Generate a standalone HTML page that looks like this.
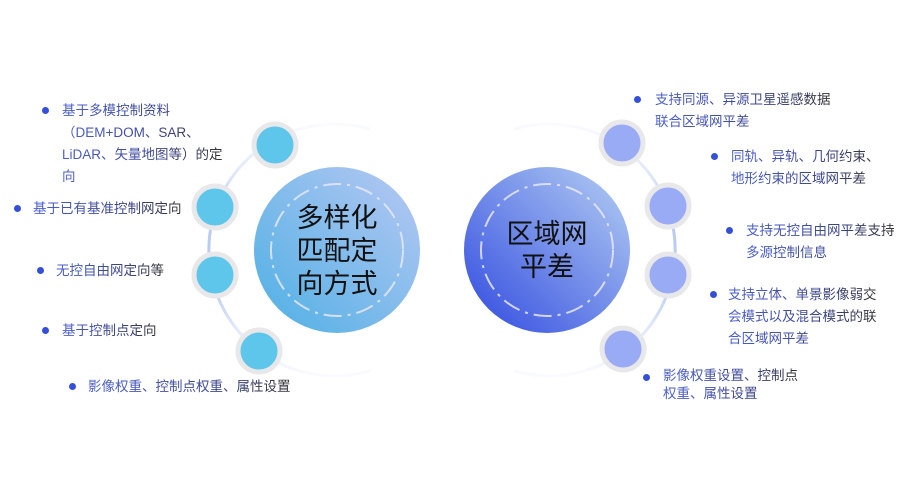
<!DOCTYPE html>
<html><head><meta charset="utf-8"><style>
body{margin:0;width:911px;height:494px;background:#fff;position:relative;overflow:hidden;font-family:"Liberation Sans","Noto Sans CJK SC",sans-serif;}
.t{position:absolute;font-size:13.5px;line-height:22px;white-space:nowrap;background:linear-gradient(90deg,#4a5fd0,#3a4590 60%,#333);-webkit-background-clip:text;background-clip:text;color:transparent;}
.b{position:absolute;width:7px;height:7px;border-radius:50%;background:#3550d8;}
.c{position:absolute;font-size:27px;line-height:33px;color:#111;text-align:center;}
</style></head><body>
<svg width="911" height="494" style="position:absolute;left:0;top:0">
<defs>
<linearGradient id="gl" x1="0" y1="1" x2="1" y2="0"><stop offset="0" stop-color="#4cb0e4"/><stop offset="1" stop-color="#b9c8f3"/></linearGradient>
<linearGradient id="gr" x1="0" y1="1" x2="1" y2="0"><stop offset="0" stop-color="#2f49e0"/><stop offset="1" stop-color="#b6d0f3"/></linearGradient>
<linearGradient id="al" x1="0" y1="0" x2="0" y2="1"><stop offset="0" stop-color="#fafbff"/><stop offset=".2" stop-color="#dfe7fa"/><stop offset=".35" stop-color="#b9cdf3"/><stop offset=".65" stop-color="#b9cdf3"/><stop offset=".8" stop-color="#dfe7fa"/><stop offset="1" stop-color="#fafbff"/></linearGradient>
</defs>
<path d="M370 129 A126 126 0 1 0 370 371" fill="none" stroke="url(#al)" stroke-width="3"/>
<path d="M514 129 A126 126 0 1 1 514 371" fill="none" stroke="url(#al)" stroke-width="3"/>
<circle cx="337" cy="250" r="83" fill="url(#gl)"/>
<circle cx="337" cy="250" r="66" fill="none" stroke="#e8e6f8" stroke-width="2" stroke-dasharray="18 6 3 6" opacity=".85"/>
<circle cx="547" cy="250" r="83" fill="url(#gr)"/>
<circle cx="547" cy="250" r="66" fill="none" stroke="#e8e6f8" stroke-width="2" stroke-dasharray="18 6 3 6" opacity=".85"/>
<g fill="#5ec5eb" stroke="#e8e8ea" stroke-width="5">
<circle cx="275" cy="145" r="21"/><circle cx="215" cy="207" r="21"/><circle cx="215" cy="275" r="21"/><circle cx="259" cy="351" r="21"/>
</g>
<g fill="#9aabf5" stroke="#e8e8ea" stroke-width="5">
<circle cx="622" cy="143" r="21"/><circle cx="668" cy="206" r="21"/><circle cx="668" cy="275" r="21"/><circle cx="623" cy="349" r="21"/>
</g>
</svg>
<div class="c" style="left:287px;top:202px;width:100px">多样化<br>匹配定<br>向方式</div>
<div class="c" style="left:497px;top:218px;width:100px">区域网<br>平差</div>

<div class="b" style="left:42px;top:107px"></div>
<div class="t" style="left:62px;top:100px">基于多模控制资料<br>（DEM+DOM、SAR、<br>LiDAR、矢量地图等）的定<br>向</div>
<div class="b" style="left:14px;top:205px"></div>
<div class="t" style="left:33px;top:198px">基于已有基准控制网定向</div>
<div class="b" style="left:37px;top:267px"></div>
<div class="t" style="left:56px;top:260px">无控自由网定向等</div>
<div class="b" style="left:42px;top:327px"></div>
<div class="t" style="left:62px;top:320px">基于控制点定向</div>
<div class="b" style="left:69px;top:383px"></div>
<div class="t" style="left:88px;top:376px">影像权重、控制点权重、属性设置</div>

<div class="b" style="left:634px;top:96px"></div>
<div class="t" style="left:655px;top:89px">支持同源、异源卫星遥感数据<br>联合区域网平差</div>
<div class="b" style="left:711px;top:153px"></div>
<div class="t" style="left:731px;top:146px">同轨、异轨、几何约束、<br>地形约束的区域网平差</div>
<div class="b" style="left:726px;top:227px"></div>
<div class="t" style="left:746px;top:220px">支持无控自由网平差支持<br>多源控制信息</div>
<div class="b" style="left:710px;top:291px"></div>
<div class="t" style="left:728px;top:284px">支持立体、单景影像弱交<br>会模式以及混合模式的联<br>合区域网平差</div>
<div class="b" style="left:643px;top:374px"></div>
<div class="t" style="left:663px;top:367px;line-height:18px">影像权重设置、控制点<br>权重、属性设置</div>
</body></html>
